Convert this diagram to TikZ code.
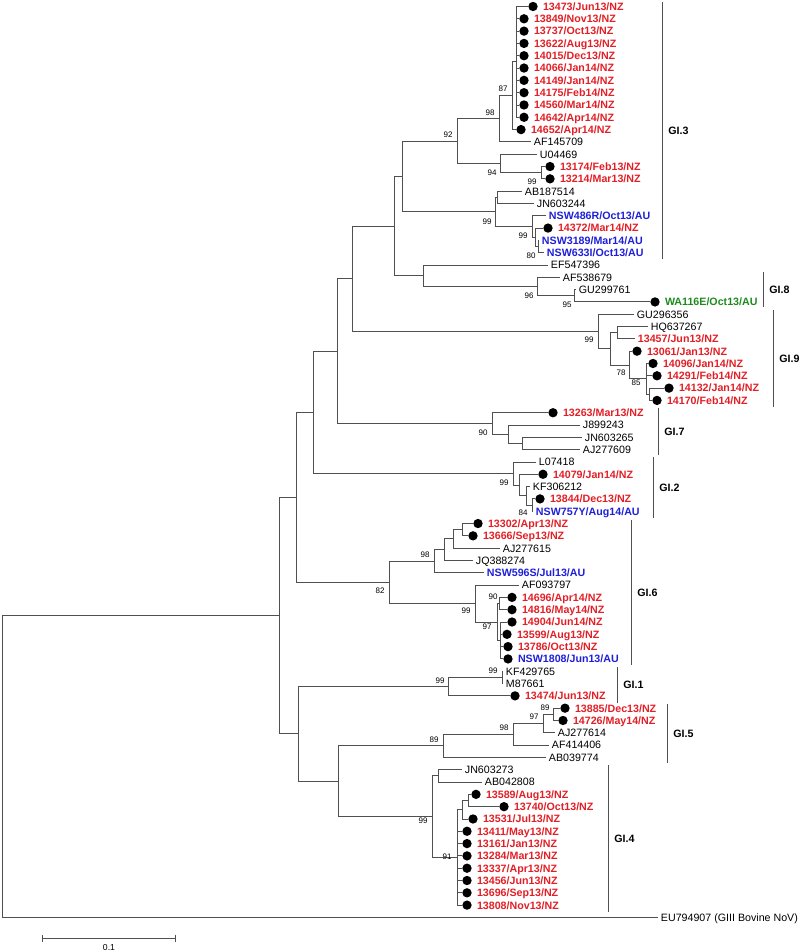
\documentclass[tikz,border=0pt]{standalone}
\usepackage{fontspec}
\setmainfont{Liberation Sans}
\usetikzlibrary{arrows.meta, positioning}
\definecolor{nzred}{HTML}{E21F26}
\definecolor{aublue}{HTML}{1F1FD9}
\definecolor{wagreen}{HTML}{1E8A1E}
\definecolor{brn}{HTML}{505050}

\begin{document}
\begin{tikzpicture}[
  x=0.75pt, y=-0.75pt,
  br/.style={brn, line width=0.7pt},
  bar/.style={brn, line width=0.7pt},
  dot/.style={circle, fill=black, inner sep=0pt, minimum size=7pt},
  lab/.style={font=\fontsize{8}{9}\selectfont, inner xsep=2pt, inner ysep=0pt, text height=5.8pt, text depth=0pt},
  accl/.style={lab},
  isol/.style={lab, font=\fontsize{8}{9}\selectfont\bfseries},
  nzl/.style={isol, text=nzred},
  aul/.style={isol, text=aublue},
  wal/.style={isol, text=wagreen},
  boot/.style={font=\fontsize{6}{7}\selectfont, inner sep=0pt},
  grp/.style={font=\fontsize{8}{9}\selectfont\bfseries, anchor=west, inner xsep=2pt},
]
\useasboundingbox (0,0) rectangle (800,952);

% ---- internal nodes (x = distance, y = mean of first/last child) ----
\coordinate (R)   at (2,766.5);
\coordinate (N1)  at (279,615.66);
\coordinate (N2)  at (296,497.36);
\coordinate (N3)  at (313,412.34);
\coordinate (N4)  at (337,351.18);
\coordinate (N5)  at (352,278.86);
\coordinate (N6)  at (394,226.15);
\coordinate (N7)  at (402,176.5);
\coordinate (N8)  at (457,141.14);
\coordinate (N9)  at (499,118.83);
\coordinate (N10) at (500,163.45);
\coordinate (N11) at (512,95.75);
\coordinate (N12) at (516,61.9);
\coordinate (N13) at (541,172.69);
\coordinate (N14) at (495,211.9);
\coordinate (N15) at (497,197.3);
\coordinate (N16) at (532,226.5);
\coordinate (N17) at (535,237.3);
\coordinate (N18) at (538,246.55);
\coordinate (N19) at (423,275.8);
\coordinate (N20) at (537,286.56);
\coordinate (N21) at (574,295.8);
\coordinate (N22) at (598,331.56);
\coordinate (N23) at (610,348.87);
\coordinate (N24) at (617,332.7);
\coordinate (N25) at (629,365.03);
\coordinate (N26) at (646,378.88);
\coordinate (N27) at (649,394.27);
\coordinate (N28) at (492,423.5);
\coordinate (N29) at (508,434.27);
\coordinate (N30) at (522,443.5);
\coordinate (N3b) at (513,473.5);
\coordinate (N31) at (519,485.05);
\coordinate (N32) at (526,495.82);
\coordinate (N33) at (532,505.05);
\coordinate (N34) at (389,582.38);
\coordinate (N35) at (434,561.22);
\coordinate (N36) at (444,549.68);
\coordinate (N37) at (453,538.9);
\coordinate (N38) at (462,529.67);
\coordinate (N39) at (475,603.53);
\coordinate (N40) at (497,622);
\coordinate (N41) at (499,603.53);
\coordinate (N42) at (500,640.47);
\coordinate (N43) at (298,733.95);
\coordinate (N44) at (448,686.63);
\coordinate (N45) at (502,677.4);
\coordinate (N46) at (338,781.27);
\coordinate (N47) at (443,745.87);
\coordinate (N48) at (513,734.33);
\coordinate (N49) at (543,723.56);
\coordinate (N50) at (553,714.33);
\coordinate (N51) at (432,816.66);
\coordinate (N52) at (438,775.88);
\coordinate (N53) at (457,857.43);
\coordinate (N54) at (462,809.73);
\coordinate (N55) at (468,800.5);

% ---- inner branches ----
\foreach \pa/\ch in {R/N1, N1/N2, N1/N43, N2/N3, N2/N34, N3/N4, N3/N3b,
  N4/N5, N4/N28, N5/N6, N5/N22, N6/N7, N6/N19, N7/N8, N7/N14, N8/N9, N8/N10,
  N9/N11, N11/N12, N10/N13, N14/N15, N14/N16, N16/N17, N17/N18, N19/N20,
  N20/N21, N22/N23, N23/N24, N23/N25, N25/N26, N26/N27, N28/N29, N29/N30,
  N3b/N31, N31/N32, N32/N33, N34/N35, N34/N39, N35/N36, N36/N37, N37/N38,
  N39/N40, N40/N41, N40/N42, N43/N44, N43/N46, N44/N45, N46/N47, N46/N51,
  N47/N48, N48/N49, N49/N50, N51/N52, N51/N53, N53/N54, N54/N55}
  \draw[br] (\pa) |- (\ch);

% ---- sequenced strains (dot) ----
\foreach \rw/\tx/\pa/\st/\lbl in {
  1/533/N12/nzl/{13473/Jun13/NZ}, 2/524/N12/nzl/{13849/Nov13/NZ},
  3/524/N12/nzl/{13737/Oct13/NZ}, 4/524/N12/nzl/{13622/Aug13/NZ},
  5/524/N12/nzl/{14015/Dec13/NZ}, 6/524/N12/nzl/{14066/Jan14/NZ},
  7/524/N12/nzl/{14149/Jan14/NZ}, 8/524/N12/nzl/{14175/Feb14/NZ},
  9/524/N12/nzl/{14560/Mar14/NZ}, 10/524/N12/nzl/{14642/Apr14/NZ},
  11/521/N11/nzl/{14652/Apr14/NZ}, 14/550/N13/nzl/{13174/Feb13/NZ},
  15/550/N13/nzl/{13214/Mar13/NZ}, 19/548/N17/nzl/{14372/Mar14/NZ},
  25/655/N21/wal/{WA116E/Oct13/AU}, 29/637/N25/nzl/{13061/Jan13/NZ},
  30/653/N26/nzl/{14096/Jan14/NZ}, 31/657/N26/nzl/{14291/Feb14/NZ},
  32/669/N27/nzl/{14132/Jan14/NZ}, 33/657/N27/nzl/{14170/Feb14/NZ},
  34/553/N28/nzl/{13263/Mar13/NZ}, 39/543/N31/nzl/{14079/Jan14/NZ},
  41/540/N33/nzl/{13844/Dec13/NZ}, 43/478/N38/nzl/{13302/Apr13/NZ},
  44/473/N38/nzl/{13666/Sep13/NZ}, 49/512/N41/nzl/{14696/Apr14/NZ},
  50/512/N41/nzl/{14816/May14/NZ}, 51/512/N42/nzl/{14904/Jun14/NZ},
  52/507/N42/nzl/{13599/Aug13/NZ}, 53/508/N42/nzl/{13786/Oct13/NZ},
  54/508/N42/aul/{NSW1808/Jun13/AU}, 57/515/N44/nzl/{13474/Jun13/NZ},
  58/565/N50/nzl/{13885/Dec13/NZ}, 59/563/N50/nzl/{14726/May14/NZ},
  65/476/N55/nzl/{13589/Aug13/NZ}, 66/504/N55/nzl/{13740/Oct13/NZ},
  67/473/N54/nzl/{13531/Jul13/NZ}, 68/467/N53/nzl/{13411/May13/NZ},
  69/467/N53/nzl/{13161/Jan13/NZ}, 70/467/N53/nzl/{13284/Mar13/NZ},
  71/467/N53/nzl/{13337/Apr13/NZ}, 72/467/N53/nzl/{13456/Jun13/NZ},
  73/467/N53/nzl/{13696/Sep13/NZ}, 74/467/N53/nzl/{13808/Nov13/NZ}}{
  \node[dot] (D\rw) at (\tx,{6.5+(\rw-1)*12.31}) {};
  \node[\st, right=1.6pt of D\rw] (L\rw) {\lbl};
  \draw[br] (\pa) |- (D\rw);
}

% ---- reference and other strains ----
\foreach \rw/\tx/\pa/\st/\lbl in {
  12/531/N9/accl/AF145709, 13/537/N10/accl/U04469,
  16/522/N15/accl/AB187514, 17/534/N15/accl/JN603244,
  18/546/N16/aul/{NSW486R/Oct13/AU}, 20/539/N18/aul/{NSW3189/Mar14/AU},
  21/544/N18/aul/{NSW633I/Oct13/AU}, 22/548/N19/accl/EF547396,
  23/560/N20/accl/AF538679, 24/576/N21/accl/GU299761,
  26/634/N22/accl/GU296356, 27/648/N24/accl/HQ637267,
  28/635/N24/nzl/{13457/Jun13/NZ}, 35/580/N29/accl/J899243,
  36/582/N30/accl/JN603265, 37/580/N30/accl/AJ277609,
  38/536/N3b/accl/L07418, 40/530/N32/accl/KF306212,
  42/533/N33/aul/{NSW757Y/Aug14/AU}, 45/500/N37/accl/AJ277615,
  46/473/N36/accl/JQ388274, 47/484/N35/aul/{NSW596S/Jul13/AU},
  48/519/N39/accl/AF093797, 55/503/N45/accl/KF429765,
  56/503/N45/accl/M87661, 60/555/N49/accl/AJ277614,
  61/549/N48/accl/AF414406, 62/546/N47/accl/AB039774,
  63/462/N52/accl/JN603273, 64/482/N52/accl/AB042808,
  75/658/R/accl/{EU794907 (GIII Bovine NoV)}}{
  \node[\st, anchor=west] (L\rw) at (\tx,{6.5+(\rw-1)*12.31}) {\lbl};
  \draw[br] (\pa) |- (L\rw);
}

% ---- bootstrap values ----
\foreach \x/\y/\v [count=\i] in {448/135/92, 490/113/98, 503/89/87, 492/173/94,
  532/182/99, 487/222/99, 523/236/99, 531/256/80, 529/296/96, 567/305/95,
  589/340/99, 621/373/78, 636/383/85, 483/433/90, 504/483/99, 523/513/84,
  425/555/98, 380/591/82, 466/611/99, 493/597/90, 487/627/97, 493/671/99,
  440/681/99, 545/708/89, 534/717/97, 504/728/98, 434/740/89, 423/821/99,
  447/857/91}
  \node[boot] (b\i) at (\x,\y) {\v};

% ---- genotype brackets ----
\foreach \nm/\x/\a/\b/\lbl in {g3/662/2/259/GI.3, g8/763/272/307/GI.8,
  g9/773/310/407/GI.9, g7/658/408/455/GI.7, g2/653/457/518/GI.2,
  g6/631/520/665/GI.6, g1/617/667/703/GI.1, g5/667/704/763/GI.5,
  g4/608/765/912/GI.4}{
  \draw[bar] (\x,\a) -- (\x,\b);
  \node[grp] (\nm) at (\x+3.5,{(\a+\b)/2}) {\lbl};
}

% ---- scale bar ----
\coordinate (s0) at (42,938);
\coordinate (s1) at (176,938);
\draw[br, {Bar[width=5.25pt]}-{Bar[width=5.25pt]}] (s0) -- (s1);
\node[boot, font=\fontsize{6.5}{7}\selectfont] (sbl) at (109,948) {0.1};

\end{tikzpicture}
\end{document}
